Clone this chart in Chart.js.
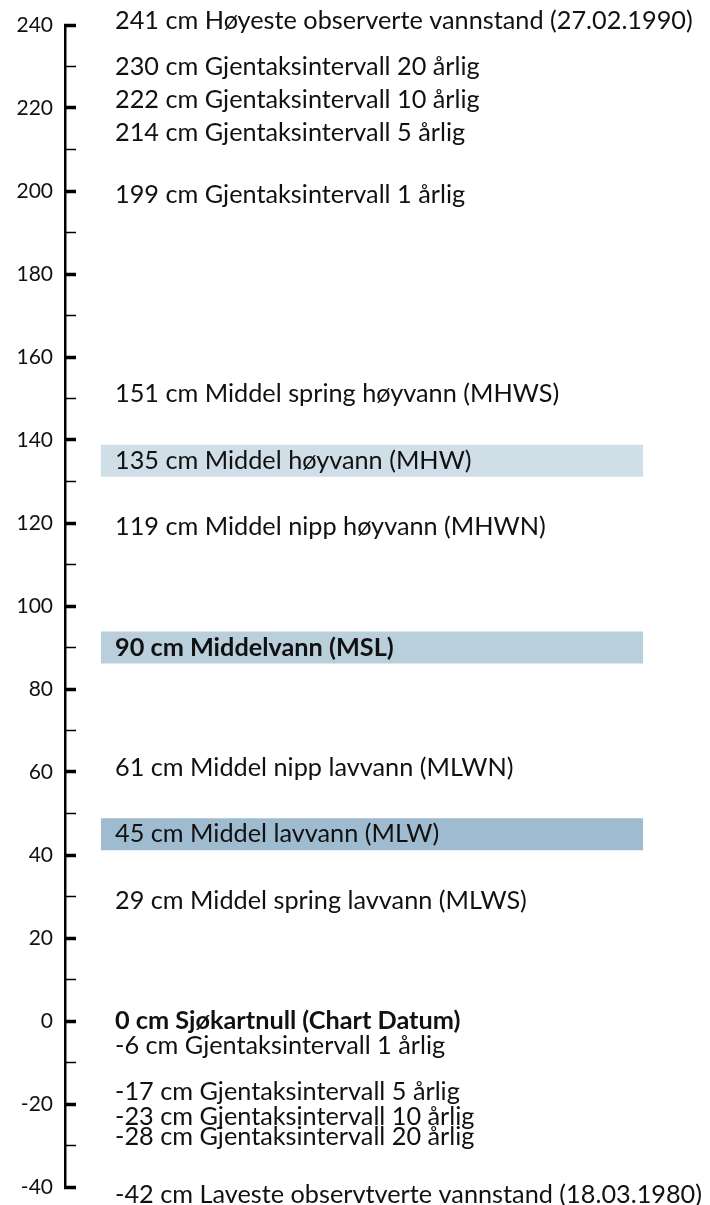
<!DOCTYPE html>
<html lang="no">
<head>
<meta charset="utf-8">
<title>Vannstandsnivåer</title>
<script src="https://cdn.jsdelivr.net/npm/chart.js@4"></script>
<style>
  body { margin: 0; background: #fff; }
  #wrap { width: 710px; height: 1205px; }
</style>
</head>
<body>
<div id="wrap"><canvas id="levelChart" width="710" height="1205"></canvas></div>
<script>
// Nivåer (cm over sjøkartnull) og tekst til hver linje
const levels = [241, 230, 222, 214, 199, 151, 135, 119, 90, 61, 45, 29, 0, -6, -17, -23, -28, -42];
const levelNames = [
    'Høyeste observerte vannstand (27.02.1990)',
    'Gjentaksintervall 20 årlig',
    'Gjentaksintervall 10 årlig',
    'Gjentaksintervall 5 årlig',
    'Gjentaksintervall 1 årlig',
    'Middel spring høyvann (MHWS)',
    'Middel høyvann (MHW)',
    'Middel nipp høyvann (MHWN)',
    'Middelvann (MSL)',
    'Middel nipp lavvann (MLWN)',
    'Middel lavvann (MLW)',
    'Middel spring lavvann (MLWS)',
    'Sjøkartnull (Chart Datum)',
    'Gjentaksintervall 1 årlig',
    'Gjentaksintervall 5 årlig',
    'Gjentaksintervall 10 årlig',
    'Gjentaksintervall 20 årlig',
    'Laveste observtverte vannstand (18.03.1980)'
];
const boldLevels = [90, 0];

// Skraverte bånd
const bandLevels = [135, 90, 45];

// Akse
const axisMin = -40;
const axisMax = 240;
const tickStep = 10;
const labelStep = 20;

// Stil
const bandColors = ['#d0dee7', '#b9cfdc', '#9ebbcf'];
const bandHalf = 3.85;
const fontFamily = 'Lato, "Open Sans", sans-serif';
const labelWidthTarget = 587;

// Tekst ved hvert nivå, tegnet med y-skalaen
const levelLabelPlugin = {
    id: 'levelLabels',
    afterDatasetsDraw(chart) {
        const ctx = chart.ctx;
        const y = chart.scales.y;
        const x = chart.chartArea.left + 50;

        // Skriftstørrelse slik at den lengste linjen får samme bredde som originalen
        ctx.save();
        ctx.font = '20px ' + fontFamily;
        const widest = Math.max(...levels.map((v, i) => ctx.measureText(v + ' cm ' + levelNames[i]).width));
        const size = 20 * labelWidthTarget / widest;

        ctx.fillStyle = '#111';
        ctx.textAlign = 'left';
        ctx.textBaseline = 'middle';
        levels.forEach((v, i) => {
            const bold = boldLevels.includes(v);
            ctx.font = (bold ? 'bold ' : '') + size.toFixed(2) + 'px ' + fontFamily;
            ctx.fillText(v + ' cm ' + levelNames[i], x, y.getPixelForValue(v));
        });
        ctx.restore();
    }
};

const ctx = document.getElementById('levelChart').getContext('2d');

new Chart(ctx, {
    type: 'bar',
    data: {
        labels: [''],
        datasets: bandLevels.map((v, i) => ({
            data: [[v - bandHalf, v + bandHalf]],
            backgroundColor: bandColors[i],
            borderWidth: 0,
            grouped: false,
            barPercentage: 0.883,
            categoryPercentage: 1
        }))
    },
    options: {
        responsive: false,
        animation: false,
        layout: {
            padding: { top: 25, bottom: 18, left: 0, right: 31 }
        },
        plugins: {
            legend: { display: false },
            tooltip: { enabled: false }
        },
        scales: {
            x: { display: false },
            y: {
                min: axisMin,
                max: axisMax,
                afterFit: function(scale) {
                    scale.width = 65;
                    // la layout.padding styre topp og bunn
                    scale.paddingTop = 0;
                    scale.paddingBottom = 0;
                },
                border: { display: true, color: '#000', width: 2.5 },
                grid: {
                    drawOnChartArea: false,
                    drawTicks: true,
                    tickLength: -11,
                    tickColor: '#000',
                    tickWidth: function(c) {
                        return c.tick && c.tick.value % labelStep === 0 ? 3.5 : 1.5;
                    }
                },
                ticks: {
                    stepSize: tickStep,
                    autoSkip: false,
                    padding: 23,
                    color: '#111',
                    font: { family: fontFamily, size: 21 },
                    callback: function(value) {
                        return value % labelStep === 0 ? value : '';
                    }
                }
            }
        }
    },
    plugins: [levelLabelPlugin]
});
</script>
</body>
</html>
